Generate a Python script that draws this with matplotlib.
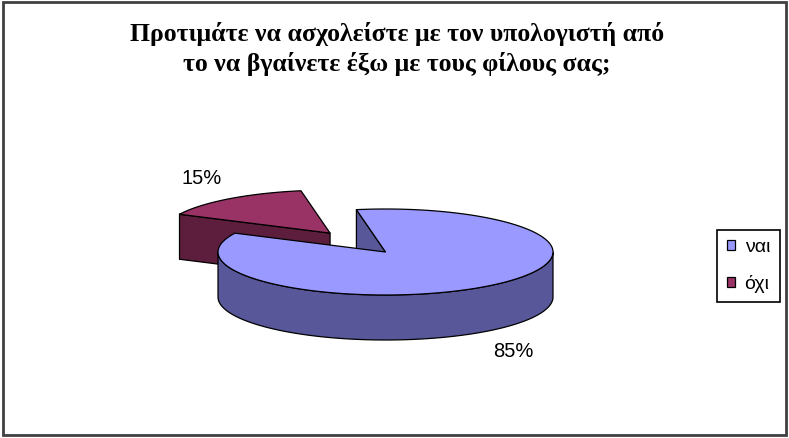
import numpy as np
import matplotlib.pyplot as plt
from matplotlib.patches import Polygon, Rectangle, Patch

title = ("Προτιμάτε να ασχολείστε με τον υπολογιστή από\n"
         "το να βγαίνετε έξω με τους φίλους σας;")
labels = ["ναι", "όχι"]
shares = [85, 15]
explode = [0.0, 0.55]
top_colors = ["#9999FF", "#993366"]
side_colors = ["#57579A", "#5C1E3C"]

# geometry of the tilted pie (pixel units)
cx, cy = 385.5, 252
rx, ry = 167.5, 43
depth = 45
start = 100  # first slice starts a little left of 12 o'clock, runs clockwise

fig = plt.figure(figsize=(7.89, 4.38), dpi=100)
ax = fig.add_axes([0, 0, 1, 1])
ax.set_xlim(0, 789)
ax.set_ylim(438, 0)
ax.axis('off')


def pt(ox, oy, th, r=1.0):
    t = np.radians(th)
    return ox + r * rx * np.cos(t), oy - r * ry * np.sin(t)


def runs(mask):
    out, cur = [], []
    for i, m in enumerate(mask):
        if m:
            cur.append(i)
        elif cur:
            out.append(cur)
            cur = []
    if cur:
        out.append(cur)
    return out


# slice spans, clockwise from the start angle
spans = []
end = start
for s in shares:
    t1 = end - 360 * s / sum(shares)
    spans.append((t1, end))
    end = t1

order = sorted(range(len(shares)),
               key=lambda i: -np.sin(np.radians(sum(spans[i]) / 2)))

kw = dict(edgecolor='black', linewidth=0.9, joinstyle='round')
for i in order:
    t1, t2 = spans[i]
    mid = (t1 + t2) / 2
    ox, oy = pt(cx, cy, mid, explode[i])

    # radial cut faces that turn towards the viewer
    for t, n in ((t1, t1 - 90), (t2, t2 + 90)):
        if np.sin(np.radians(n)) < 0:
            x, y = pt(ox, oy, t)
            ax.add_patch(Polygon([(ox, oy), (x, y), (x, y + depth),
                                  (ox, oy + depth)],
                                 facecolor=side_colors[i], **kw))

    # outer rim on the front half
    th = np.linspace(t1, t2, 400)
    for r in runs(np.sin(np.radians(th)) < 0):
        xs, ys = pt(ox, oy, th[r])
        poly = np.column_stack([np.r_[xs, xs[::-1]],
                                np.r_[ys, ys[::-1] + depth]])
        ax.add_patch(Polygon(poly, facecolor=side_colors[i], **kw))

    # top face
    xs, ys = pt(ox, oy, th)
    poly = np.column_stack([np.r_[ox, xs], np.r_[oy, ys]])
    ax.add_patch(Polygon(poly, facecolor=top_colors[i], **kw))

    # percentage label
    lx = ox + 1.27 * rx * np.cos(np.radians(mid))
    ly = oy - 1.6 * ry * np.sin(np.radians(mid))
    if np.sin(np.radians(mid)) < 0:
        ly += depth
    ax.text(lx, ly, f"{shares[i]}%", ha='center', va='center',
            fontsize=14.5, family='Liberation Sans')

ax.text(397, 49, title, ha='center', va='center', fontsize=18.5,
        fontweight='bold', family='Liberation Serif', linespacing=1.32)

handles = [Patch(facecolor=c, edgecolor='black', linewidth=0.9)
           for c in top_colors]
leg = fig.legend(handles, labels, loc='center left',
                 bbox_to_anchor=(717 / 789, 1 - 266 / 438),
                 prop={'family': 'Liberation Sans', 'size': 14},
                 handlelength=0.42, handleheight=0.42, handletextpad=0.5,
                 labelspacing=0.95, borderpad=0.5, borderaxespad=0,
                 fancybox=False, framealpha=1, edgecolor='black')
leg.get_frame().set_linewidth(1.2)

# outer chart border
ax.add_patch(Rectangle((3, 2), 783, 433, fill=False, edgecolor='#404040',
                       linewidth=2))

fig.savefig('out.png', dpi=100)
